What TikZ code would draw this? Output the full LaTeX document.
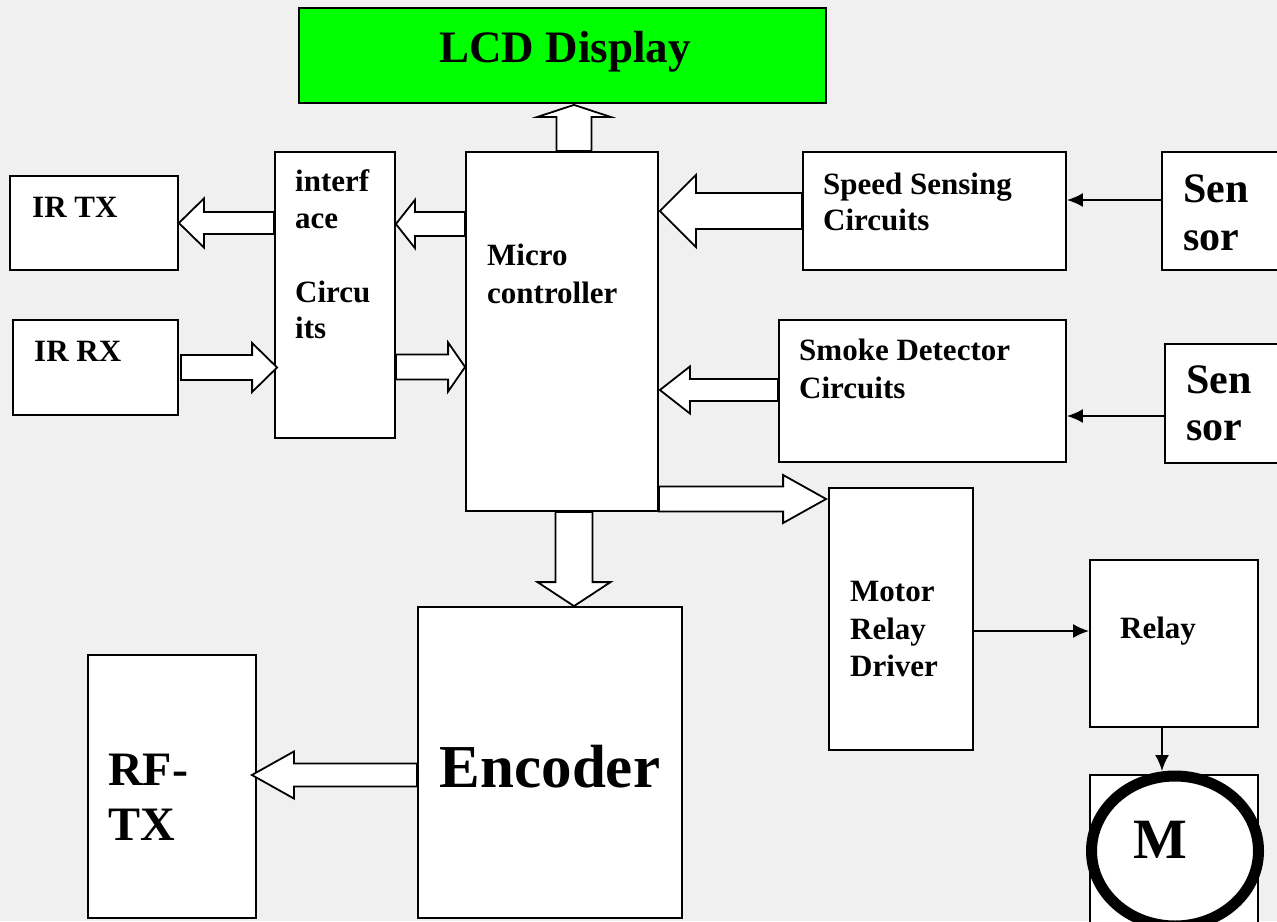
\documentclass[tikz,border=0pt]{standalone}
\usepackage{fontspec}
\setmainfont{Liberation Serif}
\usetikzlibrary{calc,arrows.meta,shapes.geometric}
\definecolor{bggray}{RGB}{240,240,240}
\definecolor{lcdgreen}{RGB}{0,255,0}
\tikzset{
  box/.style={draw=black, fill=white, line width=1.8pt, inner sep=0pt, rectangle},
  barrow/.style={draw=black, fill=white, line width=1.8pt, line join=miter},
  thinarrow/.style={draw=black, line width=2pt, -{Latex[length=16pt,width=14pt]}},
  lbl/.style={inner sep=0pt, anchor=base west, font=\fontsize{31}{37}\selectfont\bfseries},
  lblbig/.style={lbl, font=\fontsize{42}{49}\selectfont\bfseries},
}
\newcommand\blockarrow[5]{%
  \coordinate (bS) at #1; \coordinate (bT) at #2;
  \coordinate (bH) at ($(bT)!#5!(bS)$);
  \draw[barrow] ($(bS)!#3!90:(bT)$) -- ($(bH)!#3!-90:(bS)$) -- ($(bH)!#4!-90:(bS)$) -- (bT)
     -- ($(bH)!#4!90:(bS)$) -- ($(bH)!#3!90:(bS)$) -- ($(bS)!#3!-90:(bT)$) -- cycle;}
\begin{document}
\begin{tikzpicture}[x=1pt,y=-1pt]
\fill[bggray] (0,0) rectangle (1277,921);
\useasboundingbox (0,0) rectangle (1277,921);
% boxes
\node[box, fill=lcdgreen, minimum width=527pt, minimum height=95pt] (lcd) at (562.5,55.5) {};
\node[box, minimum width=192pt, minimum height=359pt] (micro) at (562,331.5) {};
\node[box, minimum width=120pt, minimum height=286pt] (iface) at (335,295) {};
\node[box, minimum width=168pt, minimum height=94pt] (irtx) at (94,223) {};
\node[box, minimum width=165pt, minimum height=95pt] (irrx) at (95.5,367.5) {};
\node[box, minimum width=263pt, minimum height=118pt] (speed) at (934.5,211) {};
\node[box, minimum width=123pt, minimum height=118pt] (sens1) at (1223.5,211) {};
\node[box, minimum width=287pt, minimum height=142pt] (smoke) at (922.5,391) {};
\node[box, minimum width=120pt, minimum height=119pt] (sens2) at (1225,403.5) {};
\node[box, minimum width=144pt, minimum height=262pt] (mrd) at (901,619) {};
\node[box, minimum width=168pt, minimum height=167pt] (relay) at (1174,643.5) {};
\node[box, minimum width=168pt, minimum height=150pt] (mbox) at (1174,850) {};
\node[box, minimum width=264pt, minimum height=311pt] (enc) at (550,762.5) {};
\node[box, minimum width=168pt, minimum height=263pt] (rftx) at (172,786.5) {};
\node[draw=black, fill=white, line width=11pt, ellipse, inner sep=0pt, minimum width=167pt, minimum height=150pt] (motor) at (1175,851) {};
% texts
\node[lbl, anchor=base, font=\fontsize{45}{52}\selectfont\bfseries] (tlcd) at (565,62) {LCD Display};
\node[lbl] (tirtx) at (32,217) {IR TX};
\node[lbl] (tirrx) at (34,361) {IR RX};
\node[lbl] (ti1) at (295,191) {interf};
\node[lbl] (ti2) at (295,228) {ace};
\node[lbl] (ti3) at (295,302) {Circu};
\node[lbl] (ti4) at (295,338) {its};
\node[lbl] (tm1) at (487,265) {Micro};
\node[lbl] (tm2) at (487,303) {controller};
\node[lbl] (ts1) at (823,194) {Speed Sensing};
\node[lbl] (ts2) at (823,230) {Circuits};
\node[lbl] (tk1) at (799,360) {Smoke Detector};
\node[lbl] (tk2) at (799,398) {Circuits};
\node[lblbig] (tsa1) at (1183,202) {Sen};
\node[lblbig] (tsa2) at (1183,250) {sor};
\node[lblbig] (tsb1) at (1186,393) {Sen};
\node[lblbig] (tsb2) at (1186,440) {sor};
\node[lbl] (tr1) at (850,601) {Motor};
\node[lbl] (tr2) at (850,639) {Relay};
\node[lbl] (tr3) at (850,676) {Driver};
\node[lbl] (trel) at (1120,638) {Relay};
\node[lbl, anchor=base, font=\fontsize{61}{70}\selectfont\bfseries] (tenc) at (550,787) {Encoder};
\node[lbl, font=\fontsize{48}{55}\selectfont\bfseries] (trf1) at (108,785) {RF-};
\node[lbl, font=\fontsize{48}{55}\selectfont\bfseries] (trf2) at (108,840) {TX};
\node[lbl, anchor=base, font=\fontsize{57}{64}\selectfont\bfseries] (tmot) at (1160,858) {M};
% block arrows
\blockarrow{($(micro.north)+(12,0)$)}{($(lcd.south)+(11.5,1)$)}{17.5pt}{36.5pt}{12pt}
\blockarrow{($(micro.west)+(0,-107.5)$)}{($(iface.east)+(0,-71)$)}{12pt}{24pt}{19pt}
\blockarrow{($(iface.west)+(0,-72)$)}{($(irtx.east)$)}{11pt}{24.5pt}{25pt}
\blockarrow{($(irrx.east)+(2,0)$)}{($(iface.west)+(3,72.5)$)}{12.5pt}{24.5pt}{25pt}
\blockarrow{($(iface.east)+(0,72)$)}{($(micro.west)+(0,35.5)$)}{12.5pt}{24.5pt}{17pt}
\blockarrow{($(speed.west)$)}{($(micro.east)+(1,-120.5)$)}{18pt}{36pt}{36pt}
\blockarrow{($(smoke.west)+(0,-1)$)}{($(micro.east)+(1,58.5)$)}{11pt}{23.5pt}{30pt}
\blockarrow{($(micro.east)+(0,167.5)$)}{($(mrd.west)+(-2,-120)$)}{12.5pt}{24pt}{43pt}
\blockarrow{($(micro.south)+(12,0)$)}{($(enc.north)+(24,0)$)}{18.5pt}{36.5pt}{24pt}
\blockarrow{($(enc.west)+(0,12.5)$)}{($(rftx.east)+(-5,-11.5)$)}{11.5pt}{23.5pt}{42pt}
% thin arrows
\draw[thinarrow] ($(sens1.west)+(0,-11)$) -- ($(speed.east)+(0,-11)$);
\draw[thinarrow] ($(sens2.west)+(0,12.5)$) -- ($(smoke.east)+(0,25)$);
\draw[thinarrow] ($(mrd.east)+(0,12)$) -- ($(relay.west)+(0,-12.5)$);
\draw[thinarrow] ($(relay.south)+(-12,0)$) -- ($(motor.north)+(-13,0.5)$);
\end{tikzpicture}
\end{document}
